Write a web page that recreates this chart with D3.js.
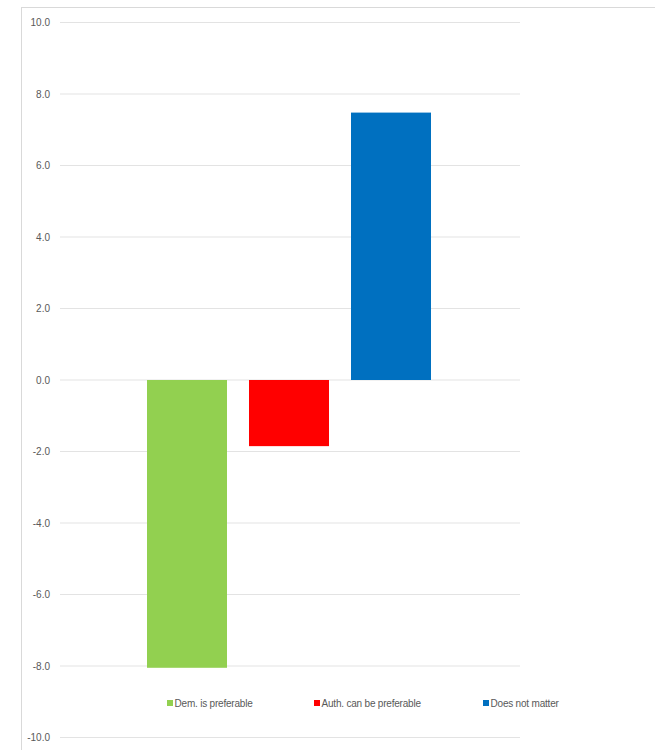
<!DOCTYPE html>
<html>
<head>
<meta charset="utf-8">
<script src="https://cdn.jsdelivr.net/npm/d3@7"></script>
<style>
  body { margin: 0; background: #fff; }
  text { font-family: "Liberation Sans", Arial, sans-serif; fill: #595959; }
</style>
</head>
<body>
<script>
const width = 655;
const height = 750;

// chart data
const series = ["Dem. is preferable", "Auth. can be preferable", "Does not matter"];
const values = [-8.05, -1.85, 7.48];
const colors = ["#92d050", "#ff0000", "#0070c0"];
const yTicks = [10, 8, 6, 4, 2, 0, -2, -4, -6, -8, -10];

let svg = d3
  .select("body")
  .append("svg")
  .attr("width", width)
  .attr("height", height);

// outer chart border (runs off right/bottom edge)
svg
  .append("rect")
  .attr("x", 21.5)
  .attr("y", 7.5)
  .attr("width", width)
  .attr("height", height)
  .attr("fill", "none")
  .attr("stroke", "#d9d9d9");

let margin = { left: 60, right: 135 };

let yScale = d3.scaleLinear().domain([-10, 10]).range([737.5, 22.5]);

let step = 102;
let xScale = d3
  .scaleBand()
  .domain(series)
  .range([136, 136 + step * 3])
  .paddingInner(22 / step)
  .paddingOuter(11 / step);

// gridlines
svg
  .append("g")
  .selectAll("line")
  .data(yTicks)
  .join("line")
  .attr("x1", margin.left)
  .attr("x2", width - margin.right)
  .attr("y1", (d) => yScale(d))
  .attr("y2", (d) => yScale(d))
  .attr("stroke", "#e3e3e3")
  .attr("stroke-width", 1);

// y axis labels (plain hyphen for negatives, like Excel)
let fmt = d3.formatLocale({ decimal: ".", thousands: ",", grouping: [3], currency: ["", ""], minus: "-" }).format(".1f");

let leftAxis = d3
  .axisLeft(yScale)
  .tickValues(yTicks)
  .tickFormat(fmt)
  .tickSize(0)
  .tickPadding(0);

let leftContainer = svg
  .append("g")
  .attr("transform", "translate(50, 0)")
  .call(leftAxis);

leftContainer.select(".domain").remove();
leftContainer
  .selectAll("text")
  .attr("font-size", 10)
  .style("font-family", '"Liberation Sans", Arial, sans-serif')
  .attr("fill", "#595959");

// bars
svg
  .append("g")
  .selectAll("rect")
  .data(values)
  .join("rect")
  .attr("x", (d, i) => xScale(series[i]))
  .attr("width", xScale.bandwidth())
  .attr("y", (d) => yScale(Math.max(0, d)))
  .attr("height", (d) => Math.abs(yScale(d) - yScale(0)))
  .attr("fill", (d, i) => colors[i]);

// legend
const legendX = [167, 314, 483];
let legend = svg
  .append("g")
  .selectAll("g")
  .data(series)
  .join("g")
  .attr("transform", (d, i) => `translate(${legendX[i]}, 703)`);

legend
  .append("rect")
  .attr("x", 0)
  .attr("y", -3)
  .attr("width", 6)
  .attr("height", 6)
  .attr("fill", (d, i) => colors[i]);

legend
  .append("text")
  .attr("x", 7.5)
  .attr("y", 3.5)
  .attr("font-size", 10)
  .attr("letter-spacing", -0.2)
  .text((d) => d);
</script>
</body>
</html>
